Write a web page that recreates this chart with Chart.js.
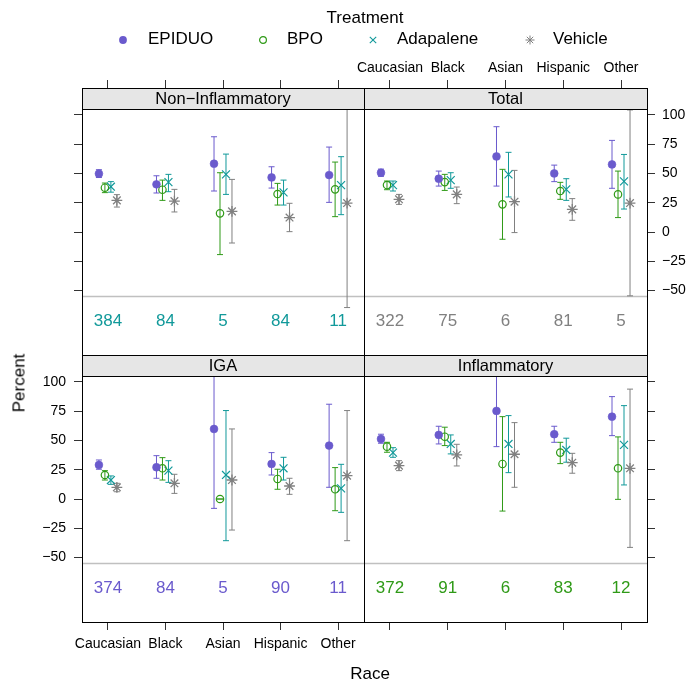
<!DOCTYPE html>
<html>
<head>
<meta charset="utf-8">
<script src="https://cdn.jsdelivr.net/npm/chart.js@4.4.1/dist/chart.umd.min.js"></script>
<style>
  body { margin: 0; background: #fff; font-family: "Liberation Sans", Arial, sans-serif; }
  #wrap { position: relative; width: 688px; height: 686px; overflow: hidden; }
  canvas { position: absolute; left: 0; top: 0; }
  .lbl { position: absolute; font-size: 17px; font-weight: normal; color: #000; white-space: nowrap; line-height: 1; }
  .mk { position: absolute; }
</style>
</head>
<body>
<div id="wrap">
  <canvas id="p1" width="688" height="686"></canvas>
  <canvas id="p2" width="688" height="686"></canvas>
  <canvas id="p3" width="688" height="686"></canvas>
  <canvas id="p4" width="688" height="686"></canvas>
  <div class="lbl" style="left:365px;top:17px;transform:translate(-50%,-50%)">Treatment</div>
  <div class="lbl" style="left:19px;top:383px;transform:translate(-50%,-50%) rotate(-90deg)">Percent</div>
  <div class="lbl" style="left:370px;top:673px;transform:translate(-50%,-50%)">Race</div>
</div>
<script>
// categories and groups
const categories = ['Caucasian', 'Black', 'Asian', 'Hispanic', 'Other'];
const treatments = ['EPIDUO', 'BPO', 'Adapalene', 'Vehicle'];
const yTicks = [-50, -25, 0, 25, 50, 75, 100];

// Non-Inflammatory: percent, lower and upper limits (rows = treatments)
const nonInflamPct = [
  [49.8, 40.7, 58.3, 46.6, 48.6],
  [37.8, 36.1, 15.9, 32.4, 36.4],
  [38.7, 42.6, 49.2, 33.8, 40.0],
  [27.0, 26.4, 17.6, 12.3, 24.7]
];
const nonInflamLower = [
  [46.5, 33.3, 35.0, 37.5, 25.3],
  [33.6, 27.0, -19.3, 23.0, 13.1],
  [34.0, 34.4, 32.1, 23.0, 14.8],
  [21.3, 17.1, -9.4, 0.3, -64.5]
];
const nonInflamUpper = [
  [53.2, 48.0, 81.3, 55.7, 72.5],
  [41.8, 44.3, 50.6, 41.5, 59.7],
  [43.0, 49.2, 66.5, 44.3, 64.3],
  [31.9, 36.4, 44.9, 24.5, 113.9]
];
const nonInflamN = [384, 84, 5, 84, 11];

// Total
const totalPct = [
  [50.6, 45.5, 64.5, 50.0, 57.7],
  [40.1, 42.6, 23.6, 35.0, 32.1],
  [40.0, 44.3, 49.2, 36.4, 43.2],
  [27.9, 32.1, 25.9, 19.3, 24.7]
];
const totalLower = [
  [47.5, 39.2, 39.2, 43.0, 37.3],
  [36.1, 35.5, -6.2, 27.9, 12.3],
  [35.0, 37.3, 29.9, 27.0, 19.6],
  [23.6, 24.2, -0.5, 10.0, -54.5]
];
const totalUpper = [
  [53.7, 52.0, 89.9, 57.1, 78.2],
  [43.5, 49.2, 53.5, 42.4, 52.0],
  [43.5, 50.6, 68.0, 45.5, 66.2],
  [32.1, 38.4, 52.6, 28.5, 104.2]
];
const totalN = [322, 75, 6, 81, 5];

// IGA
const igaPct = [
  [29.1, 27.1, 59.8, 29.9, 45.6],
  [20.5, 26.2, 0.0, 17.1, 8.3],
  [16.2, 24.2, 20.5, 26.2, 9.1],
  [10.0, 13.4, 16.2, 11.1, 19.9]
];
const igaLower = [
  [25.4, 17.7, -8.0, 20.5, 10.0],
  [16.2, 16.2, 0.0, 8.3, -10.0],
  [12.5, 14.2, -35.6, 16.2, -11.4],
  [6.2, 4.8, -26.5, 4.0, -35.6]
];
const igaUpper = [
  [33.3, 37.0, 127.6, 39.6, 80.9],
  [24.2, 35.3, 0.0, 25.4, 26.8],
  [19.7, 32.7, 75.5, 35.6, 29.6],
  [13.4, 21.1, 59.8, 17.7, 75.5]
];
const igaN = [374, 84, 5, 90, 11];

// Inflammatory
const inflamPct = [
  [51.3, 54.7, 75.2, 55.3, 70.3],
  [44.7, 53.2, 29.9, 39.6, 26.2],
  [39.6, 47.0, 47.0, 41.9, 46.2],
  [28.5, 37.6, 38.2, 31.0, 26.2]
];
const inflamLower = [
  [47.6, 47.0, 44.7, 48.4, 54.1],
  [39.9, 45.6, -10.3, 30.2, -0.3],
  [35.6, 38.5, 22.5, 31.4, 12.0],
  [24.2, 28.2, 10.0, 22.0, -41.3]
];
const inflamUpper = [
  [55.3, 62.1, 105.7, 62.1, 87.4],
  [48.4, 61.3, 70.3, 48.4, 53.0],
  [43.8, 54.7, 71.2, 51.9, 79.7],
  [32.7, 46.7, 65.2, 39.0, 93.8]
];
const inflamN = [372, 91, 6, 83, 12];

// styling
const colors = ['#6a5acd', '#2f9a17', '#11999a', '#808080'];
const pointStyles = ['circle', 'circle', 'crossRot', 'star'];
const pointSizes = [3.9, 3.7, 5.6, 5.4];
const pointWidths = [0.6, 1.2, 1.2, 1.3];
const dodge = [-0.156, -0.052, 0.052, 0.156];
const FONT = '"Liberation Sans", Arial, sans-serif';
const TICK = 8;
const STRIP = 21;
const PLOT_H = 246;
const yMin = -105, yPlotMax = 105;
const yMax = yPlotMax + STRIP * (yPlotMax - yMin) / PLOT_H;
const countY = -76, dividerY = -55;

const panels = [
  { id: 'p1', title: 'Non\u2212Inflammatory', pct: nonInflamPct, lo: nonInflamLower, hi: nonInflamUpper, n: nonInflamN, nColor: colors[2],
    left: 82, right: 364, top: 88, bottom: 355, xPos: 'top', xLab: false, yPos: 'left', yLab: false },
  { id: 'p2', title: 'Total', pct: totalPct, lo: totalLower, hi: totalUpper, n: totalN, nColor: colors[3],
    left: 364, right: 647, top: 88, bottom: 355, xPos: 'top', xLab: true, yPos: 'right', yLab: true },
  { id: 'p3', title: 'IGA', pct: igaPct, lo: igaLower, hi: igaUpper, n: igaN, nColor: colors[0],
    left: 82, right: 364, top: 355, bottom: 622, xPos: 'bottom', xLab: true, yPos: 'left', yLab: true },
  { id: 'p4', title: 'Inflammatory', pct: inflamPct, lo: inflamLower, hi: inflamUpper, n: inflamN, nColor: colors[1],
    left: 364, right: 647, top: 355, bottom: 622, xPos: 'bottom', xLab: false, yPos: 'right', yLab: false }
];

function panelPlugin(p) {
  return {
    id: 'panelDecor',
    beforeDatasetsDraw(chart) {
      const { ctx, chartArea: a, scales: { x, y } } = chart;
      const yTop = y.getPixelForValue(yPlotMax), yBot = y.getPixelForValue(yMin);
      ctx.save();
      // divider between estimates and counts
      const gy = y.getPixelForValue(dividerY);
      ctx.strokeStyle = '#c0c0c0';
      ctx.lineWidth = 1.5;
      ctx.beginPath(); ctx.moveTo(a.left, gy); ctx.lineTo(a.right, gy); ctx.stroke();
      // counts
      ctx.fillStyle = p.nColor;
      ctx.font = '17px ' + FONT;
      ctx.textAlign = 'center';
      ctx.textBaseline = 'middle';
      p.n.forEach((v, i) => ctx.fillText(String(v), x.getPixelForValue(i + 1), y.getPixelForValue(countY)));
      // error bars, clipped to the plotting region
      ctx.beginPath(); ctx.rect(a.left, yTop, a.right - a.left, yBot - yTop); ctx.clip();
      ctx.lineWidth = 1;
      p.lo.forEach((row, s) => {
        ctx.strokeStyle = colors[s];
        row.forEach((lo, i) => {
          const px = x.getPixelForValue(i + 1 + dodge[s]);
          const y1 = y.getPixelForValue(lo), y2 = y.getPixelForValue(p.hi[s][i]);
          ctx.beginPath();
          ctx.moveTo(px, y1); ctx.lineTo(px, y2);
          ctx.moveTo(px - 3, y1); ctx.lineTo(px + 3, y1);
          ctx.moveTo(px - 3, y2); ctx.lineTo(px + 3, y2);
          ctx.stroke();
        });
      });
      ctx.restore();
    },
    afterDatasetsDraw(chart) {
      const { ctx, chartArea: a, scales: { y } } = chart;
      const yTop = y.getPixelForValue(yPlotMax);
      ctx.save();
      ctx.fillStyle = '#e6e6e6';
      ctx.fillRect(a.left, a.top, a.right - a.left, yTop - a.top);
      ctx.strokeStyle = '#000';
      ctx.lineWidth = 1;
      ctx.strokeRect(a.left + 0.5, a.top + 0.5, a.right - a.left, yTop - a.top);
      ctx.strokeRect(a.left + 0.5, a.top + 0.5, a.right - a.left, a.bottom - a.top);
      ctx.fillStyle = '#000';
      ctx.font = '16.5px ' + FONT;
      ctx.textAlign = 'center';
      ctx.textBaseline = 'middle';
      ctx.fillText(p.title, (a.left + a.right) / 2, (a.top + yTop) / 2 + 1);
      ctx.restore();
    }
  };
}

// axis box sizes: tick marks only, or tick marks plus labels
function axisSize(p, axis) {
  if (axis === 'x') return p.xLab ? 40 : TICK;
  if (!p.yLab) return TICK;
  return p.yPos === 'left' ? 50 : 41;
}
function fixer(size, horizontal) {
  return scale => {
    if (horizontal) scale.height = size; else scale.width = size;
    scale.paddingLeft = 0; scale.paddingRight = 0; scale.paddingTop = 0; scale.paddingBottom = 0;
  };
}

panels.forEach(p => {
  const xs = axisSize(p, 'x'), ys = axisSize(p, 'y');
  const datasets = treatments.map((t, s) => ({
    label: t,
    data: p.pct[s].map((v, i) => ({ x: i + 1 + dodge[s], y: v })),
    pointStyle: pointStyles[s],
    pointRadius: pointSizes[s],
    borderColor: colors[s],
    backgroundColor: s === 0 ? colors[s] : 'rgba(0,0,0,0)',
    pointBorderWidth: pointWidths[s],
    showLine: false
  }));
  const gridOpts = { display: true, drawOnChartArea: false, drawTicks: true, tickLength: TICK, color: '#333', lineWidth: 1 };
  new Chart(document.getElementById(p.id), {
    type: 'scatter',
    data: { datasets },
    options: {
      responsive: false,
      animation: false,
      devicePixelRatio: 1,
      events: [],
      layout: {
        padding: {
          left: p.left - (p.yPos === 'left' ? ys : 0),
          right: 688 - p.right - (p.yPos === 'right' ? ys : 0),
          top: p.top - (p.xPos === 'top' ? xs : 0),
          bottom: 686 - p.bottom - (p.xPos === 'bottom' ? xs : 0)
        }
      },
      plugins: { legend: { display: false }, tooltip: { enabled: false } },
      scales: {
        x: {
          type: 'linear', position: p.xPos, min: 0.55, max: 5.45,
          grid: gridOpts, border: { display: false },
          afterBuildTicks: sc => { sc.ticks = categories.map((c, i) => ({ value: i + 1 })); },
          afterFit: fixer(xs, true),
          ticks: {
            display: p.xLab, autoSkip: false, maxRotation: 0, minRotation: 0,
            padding: p.xPos === 'top' ? 3 : 6, color: '#000', font: { family: FONT, size: 14 },
            callback: v => categories[Math.round(v) - 1]
          }
        },
        y: {
          type: 'linear', position: p.yPos, min: yMin, max: yMax,
          grid: gridOpts, border: { display: false },
          afterBuildTicks: sc => { sc.ticks = yTicks.map(v => ({ value: v })); },
          afterFit: fixer(ys, false),
          ticks: {
            display: p.yLab, autoSkip: false, padding: p.yPos === 'left' ? 8 : 7,
            color: '#000', font: { family: FONT, size: 14 },
            callback: v => (v < 0 ? '\u2212' + Math.abs(v) : String(v))
          }
        }
      }
    },
    plugins: [panelPlugin(p)]
  });
});

// legend
const wrap = document.getElementById('wrap');
const legendPos = [[123, 148], [263, 287], [373, 397], [530, 553]];
const markerSvg = [
  c => `<circle cx="6" cy="6" r="3.9" fill="${c}"/>`,
  c => `<circle cx="6" cy="6" r="3.4" fill="none" stroke="${c}" stroke-width="1.2"/>`,
  c => `<path d="M2.8 2.8L9.2 9.2M9.2 2.8L2.8 9.2" stroke="${c}" stroke-width="1.1"/>`,
  c => `<path d="M6 1.5V10.5M1.5 6H10.5M2.8 2.8L9.2 9.2M9.2 2.8L2.8 9.2" stroke="${c}" stroke-width="1"/>`
];
treatments.forEach((t, s) => {
  const m = document.createElement('div');
  m.className = 'mk';
  m.style.left = (legendPos[s][0] - 6) + 'px';
  m.style.top = (38 - 6) + 'px';
  m.innerHTML = `<svg width="12" height="12">${markerSvg[s](colors[s])}</svg>`;
  wrap.appendChild(m);
  const l = document.createElement('div');
  l.className = 'lbl';
  l.style.left = legendPos[s][1] + 'px';
  l.style.top = '38px';
  l.style.transform = 'translateY(-50%)';
  l.textContent = t;
  wrap.appendChild(l);
});
</script>
</body>
</html>
